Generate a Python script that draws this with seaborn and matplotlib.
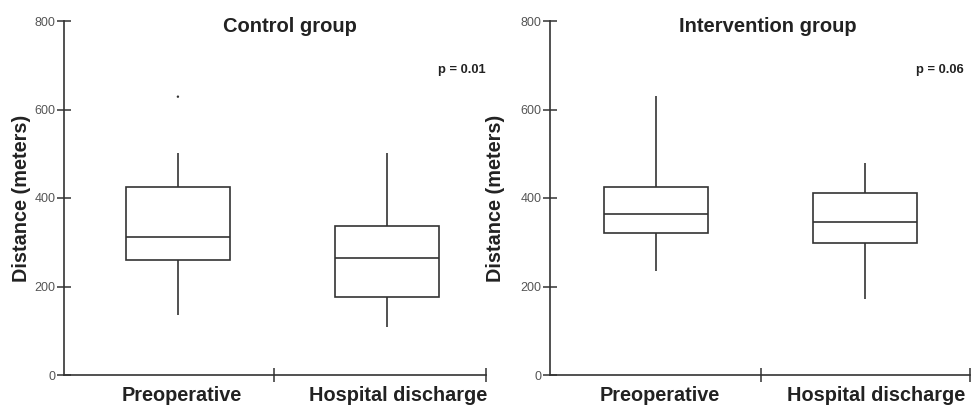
import numpy as np
import pandas as pd
import seaborn as sns
import matplotlib.pyplot as plt
import matplotlib.transforms as mtransforms

# Categories and panels
times = ['Preoperative', 'Hospital discharge']
panels = ['Control group', 'Intervention group']
p_values = ['p = 0.01', 'p = 0.06']

# Box stats: low whisker, Q1, median, Q3, high whisker
control_pre = [136, 260, 311, 425, 502]
control_dis = [108, 177, 264, 337, 502]
interv_pre = [234, 322, 364, 425, 631]
interv_dis = [172, 299, 346, 412, 479]

# Single stray point above the control preoperative box
control_outlier = [629]

y_ticks = [0, 200, 400, 600, 800]

sns.set_style('white')
plt.rcParams['font.family'] = ['Liberation Sans', 'DejaVu Sans']

def make_frame(pre, dis):
    return pd.DataFrame({
        'time': [times[0]] * len(pre) + [times[1]] * len(dis),
        'dist': pre + dis,
    })

frames = [make_frame(control_pre, control_dis), make_frame(interv_pre, interv_dis)]
outliers = [pd.DataFrame({'time': [0] * len(control_outlier), 'dist': control_outlier}), None]

fig = plt.figure(figsize=(9.72, 4.07), dpi=100)
axes = [fig.add_axes([64 / 972, 32 / 407, 422 / 972, 354 / 407]),
        fig.add_axes([550 / 972, 32 / 407, 420 / 972, 354 / 407])]
xlims = [(-0.545, 1.474), (-0.507, 1.502)]
mid_ticks = [0.46, 0.50]
ylab_x = [-0.078, -0.107]
label_shift_px = [4, 11]

line_col = '#333333'

for i, ax in enumerate(axes):
    sns.boxplot(data=frames[i], x='time', y='dist', order=times, ax=ax,
                width=0.5, whis=(0, 100), showcaps=False, fliersize=0,
                color='white', linecolor=line_col, linewidth=1.2)
    if outliers[i] is not None:
        sns.scatterplot(data=outliers[i], x='time', y='dist', ax=ax,
                        s=3, color=line_col, edgecolor='none', legend=False)

    ax.set_xlim(*xlims[i])
    ax.set_ylim(0, 800)
    ax.set_yticks(y_ticks)
    ax.set_yticklabels([str(v) for v in y_ticks])
    ax.set_xticks([0, 1])
    ax.set_xticklabels(times)
    ax.set_xticks([mid_ticks[i], xlims[i][1]], minor=True)

    for s in ['top', 'right']:
        ax.spines[s].set_visible(False)
    for s in ['left', 'bottom']:
        ax.spines[s].set_color(line_col)
        ax.spines[s].set_linewidth(1.2)
        ax.spines[s].set_clip_on(False)

    ax.tick_params(axis='y', direction='inout', length=10, width=1.1,
                   color=line_col, labelsize=9, labelcolor='#555555', pad=1, left=True)
    ax.tick_params(axis='x', which='major', length=0, labelsize=14.3,
                   pad=8, bottom=True)
    ax.tick_params(axis='x', which='minor', direction='inout', length=10,
                   width=1.1, color=line_col, bottom=True)
    for j, lab in enumerate(ax.get_xticklabels()):
        lab.set_fontweight('bold')
        lab.set_color('#222222')
        shift = mtransforms.ScaledTranslation(label_shift_px[j] / 100, 0, fig.dpi_scale_trans)
        lab.set_transform(lab.get_transform() + shift)

    ax.set_xlabel('')
    ax.set_ylabel('Distance (meters)', fontsize=14.3, fontweight='bold', color='#222222')
    ax.yaxis.set_label_coords(ylab_x[i], 0.5)

    ax.text(0.536, 788, panels[i], ha='center', va='center', fontsize=14.5,
            fontweight='bold', color='#222222', clip_on=False)
    ax.text(1.47, 689, p_values[i], ha='right', va='center', fontsize=9.3,
            fontweight='bold', color='#222222')

fig.savefig('out.png', dpi=100)
